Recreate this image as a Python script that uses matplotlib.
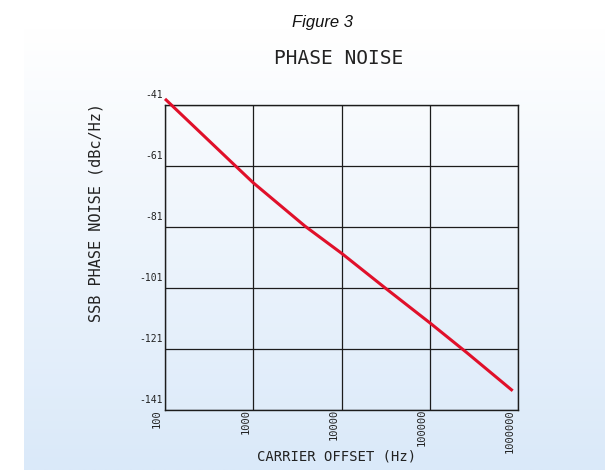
import numpy as np
import matplotlib
matplotlib.use('Agg')
import matplotlib.pyplot as plt
from matplotlib.transforms import ScaledTranslation

plt.rcParams['axes.unicode_minus'] = False

# SSB phase noise vs carrier offset
offset_hz = [100, 630, 1000, 3850, 10000, 31300, 100000, 263000, 870000]
noise_dbc = [-39.0, -61.0, -66.5, -80.7, -89.6, -101.0, -112.4, -122.2, -134.7]

xticks = [100, 1000, 10000, 100000, 1000000]
xlabels = ['100', '1000', '10000', '100000', '1000000']
yticks = [-141, -121, -101, -81, -61, -41]

W, H = 605, 470
fig = plt.figure(figsize=(W / 100, H / 100), dpi=100)
fig.patch.set_facecolor('white')

# light blue backdrop, white at the top fading down
bg = fig.add_axes([24 / W, 0, 1 - 24 / W, 1], zorder=0)
top = np.array([1.0, 1.0, 1.0])
bot = np.array([0xda, 0xe9, 0xf9]) / 255.0
t = np.clip((np.linspace(0, H, 200) - 30) / (H - 30), 0, 1)[:, None]
grad = (top * (1 - t) + bot * t)[:, None, :]
bg.imshow(grad, aspect='auto', extent=[0, 1, 0, 1], interpolation='bilinear')
bg.set_axis_off()

ax = fig.add_axes([165 / W, 1 - 410 / H, 353 / W, 305 / H], zorder=1)
ax.patch.set_alpha(0)
ax.set_xscale('log')
ax.set_xlim(100, 1000000)
ax.set_ylim(-141, -41)

ink = '#1c1c1c'
for s in ax.spines.values():
    s.set_color(ink)
    s.set_linewidth(1.0)
ax.set_xticks(xticks)
ax.set_xticklabels(xlabels)
ax.set_yticks(yticks)
ax.minorticks_off()
ax.grid(True, color=ink, linewidth=0.9)
ax.tick_params(length=0, colors='#222222', labelsize=7)

for lab in ax.get_yticklabels():
    lab.set_fontfamily('DejaVu Sans Mono')
    lab.set_va('bottom')
    lab.set_transform(lab.get_transform() + ScaledTranslation(0.03, 0.05, fig.dpi_scale_trans))
for lab in ax.get_xticklabels():
    lab.set_fontfamily('DejaVu Sans Mono')
    lab.set_fontsize(7.5)
    lab.set_rotation(90)
    lab.set_va('top')
    lab.set_ha('center')
    lab.set_transform(lab.get_transform() + ScaledTranslation(-0.08, 0.06, fig.dpi_scale_trans))

ax.plot(offset_hz, noise_dbc, color='#e0102a', linewidth=2.2, clip_on=False, zorder=3,
        solid_capstyle='butt', solid_joinstyle='round')

fig.text(322 / W, 1 - 22 / H, 'Figure 3', ha='center', va='center', fontsize=12,
         fontstyle='italic', family='Liberation Sans', color='#111111')
fig.text(339 / W, 1 - 58 / H, 'PHASE NOISE', ha='center', va='center', fontsize=14,
         family='DejaVu Sans Mono', color='#222222')
fig.text(337 / W, 1 - 457 / H, 'CARRIER OFFSET (Hz)', ha='center', va='center', fontsize=10,
         family='DejaVu Sans Mono', color='#222222')
fig.text(96 / W, 1 - 213 / H, 'SSB PHASE NOISE (dBc/Hz)', ha='center', va='center', fontsize=11,
         family='DejaVu Sans Mono', rotation=90, color='#222222')

fig.savefig('out.png', dpi=100)
